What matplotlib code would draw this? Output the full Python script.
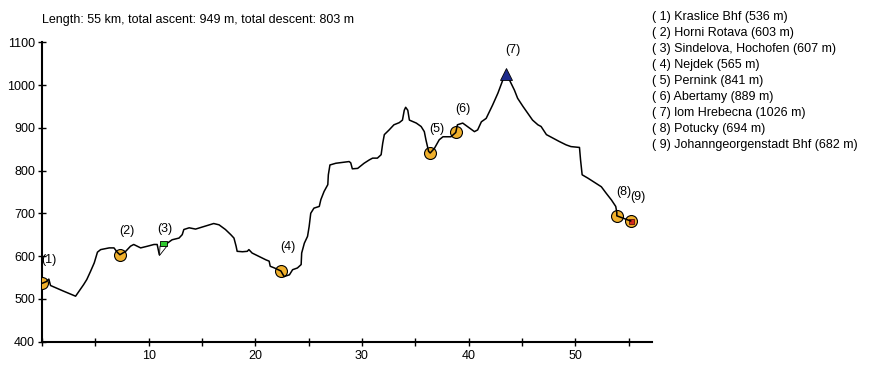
import numpy as np
import matplotlib
matplotlib.use('Agg')
import matplotlib.pyplot as plt
from matplotlib.path import Path

plt.rcParams['font.family'] = ['Liberation Sans', 'DejaVu Sans']
plt.rcParams['font.size'] = 9

# elevation profile (km, m)
dist_km = [0.0, 0.4, 0.64, 0.8, 2.0, 3.15, 3.9, 4.2, 4.55, 4.9, 5.2, 5.5, 6.3, 6.75,
           7.05, 7.3, 7.85, 8.3, 8.6, 9.25, 9.9, 10.5, 10.8, 11.0, 11.45, 11.75,
           12.2, 12.85, 13.15, 13.3, 13.8, 14.4, 15.2, 16.1, 16.6, 17.2, 17.7,
           18.0, 18.2, 18.3, 18.8, 19.25, 19.4, 19.7, 20.35, 21.0, 21.3, 21.4,
           21.8, 22.4, 22.7, 23.2, 23.5, 23.95, 24.3, 24.35, 24.6, 24.9, 25.05,
           25.2, 25.5, 26.0, 26.15, 26.45, 26.8, 26.85, 27.0, 27.55, 28.2, 28.8,
           28.95, 29.1, 29.6, 30.2, 30.7, 31.0, 31.45, 31.8, 31.95, 32.1, 32.55,
           33.0, 33.5, 33.8, 33.97, 34.1, 34.3, 34.45, 35.1, 35.55, 35.85, 36.0,
           36.25, 36.4, 36.8, 37.25, 37.6, 38.35, 38.8, 38.95, 39.45, 40.1,
           40.55, 40.85, 41.2, 41.65, 42.25, 42.75, 43.2, 43.5, 43.85, 44.3,
           44.6, 45.1, 45.55, 46.0, 46.5, 46.8, 47.3, 47.9, 48.5, 49.15, 49.6,
           50.4, 50.5, 50.65, 51.2, 51.95, 52.45, 52.9, 53.4, 53.8, 53.9, 53.9,
           55.2]
elev_m = [536, 540, 546, 531, 518, 506, 533, 545, 564, 584, 609, 615, 619, 619,
          609, 603, 611, 623, 627, 619, 623, 627, 627, 603, 623, 630,
          638, 642, 650, 662, 666, 663, 669, 676, 673, 662, 650,
          642, 623, 611, 610, 611, 615, 607, 599, 591, 588, 576,
          572, 565, 552, 556, 568, 572, 580, 607, 630, 646, 669,
          700, 712, 716, 732, 751, 767, 790, 813, 817, 819, 821,
          818, 804, 805, 817, 825, 829, 829, 837, 864, 884, 895,
          907, 912, 918, 941, 948, 941, 918, 911, 903, 891, 872,
          845, 841, 852, 872, 879, 879, 889, 907, 911, 899,
          891, 895, 914, 922, 953, 981, 1011, 1026, 1011, 988,
          969, 950, 934, 918, 907, 903, 884, 876, 868, 860, 856,
          854, 825, 790, 782, 770, 762, 747, 731, 716, 702, 694,
          682]

# waypoints
wp_names = ["Kraslice Bhf", "Horni Rotava", "Sindelova, Hochofen", "Nejdek",
            "Pernink", "Abertamy", "lom Hrebecna", "Potucky",
            "Johanngeorgenstadt Bhf"]
wp_km = [0.0, 7.3, 11.0, 22.4, 36.4, 38.8, 43.5, 53.9, 55.2]
wp_elev = [536, 603, 607, 565, 841, 889, 1026, 694, 682]

title = "Length: 55 km, total ascent: 949 m, total descent: 803 m"

fig = plt.figure(figsize=(8.77, 3.85), dpi=100)
ax = fig.add_axes([42 / 877, 1 - 341.5 / 385, 610 / 877, 299.2 / 385])

ax.plot(dist_km, elev_m, color='black', lw=1.1, zorder=4)

circ = [0, 1, 3, 4, 5, 7, 8]
ax.plot([wp_km[i] for i in circ], [wp_elev[i] for i in circ], 'o', ms=8.6,
        mfc='#f0b02c', mec='black', mew=0.8, ls='none', zorder=3)
ax.plot(wp_km[8], wp_elev[8], 's', ms=3.6, mfc='#d42a1e', mec='#5a1010',
        mew=0.6, zorder=3.5)
ax.plot(wp_km[6], wp_elev[6], '^', ms=9, mfc='#1c2a8c', mec='black',
        mew=0.6, zorder=5)

# flag marker for waypoint 3 (tip at the data point)
tri = Path([(0, 0), (0.5, 9.5), (7.5, 9.5), (0, 0)],
           [Path.MOVETO, Path.LINETO, Path.LINETO, Path.CLOSEPOLY])
rect = Path([(0.5, 9.5), (7.5, 9.5), (7.5, 14.5), (0.5, 14.5), (0.5, 9.5)],
            [Path.MOVETO, Path.LINETO, Path.LINETO, Path.LINETO, Path.CLOSEPOLY])
ax.plot(wp_km[2], wp_elev[2] - 4, marker=tri, ms=2 * 9.5 * 0.72, mfc='white',
        mec='black', mew=0.6, zorder=5)
ax.plot(wp_km[2], wp_elev[2] - 4, marker=rect, ms=2 * 14.5 * 0.72, mfc='#2ec82e',
        mec='black', mew=0.6, zorder=5)

for i, (x, y) in enumerate(zip(wp_km, wp_elev)):
    dx, dy = 5, 17
    if i == 2:
        dx = 4
    ax.annotate("(%d)" % (i + 1), (x, y), xytext=(dx, dy),
                textcoords='offset points', ha='center', va='center',
                fontsize=9, zorder=6)

ax.set_xlim(0, 57.2)
ax.set_ylim(400, 1100)
ax.set_yticks(np.arange(400, 1101, 100))
ax.set_xticks([10, 20, 30, 40, 50])
ax.set_xticks([0, 5, 15, 25, 35, 45, 55], minor=True)
for s in ['top', 'right']:
    ax.spines[s].set_visible(False)
for s in ['left', 'bottom']:
    ax.spines[s].set_linewidth(1.5)
ax.tick_params(which='both', direction='inout', width=1.0, length=6, pad=2,
               labelsize=9)
ax.tick_params(axis='x', pad=3)

fig.text(42 / 877, 1 - 20 / 385, title, fontsize=9, ha='left', va='center')

for i, (n, e) in enumerate(zip(wp_names, wp_elev)):
    fig.text(652 / 877, 1 - (17 + i * 16) / 385, "(%2d) %s (%d m)" % (i + 1, n, e),
             fontsize=9, ha='left', va='center')

fig.savefig('out.png', dpi=100)
